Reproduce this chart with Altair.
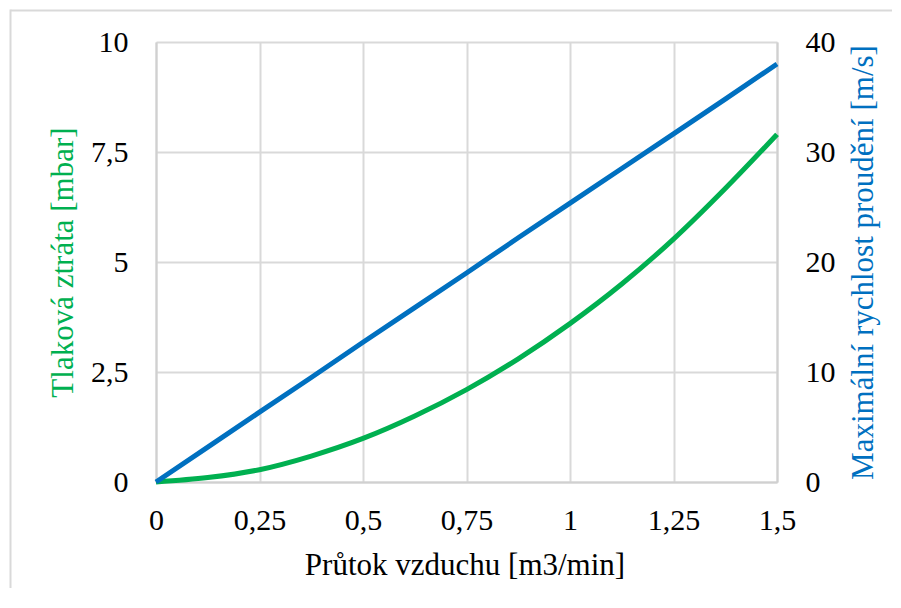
import altair as alt
import pandas as pd

# data
flow = [0, 0.125, 0.25, 0.375, 0.5, 0.625, 0.75, 0.875, 1.0, 1.125, 1.25, 1.375, 1.5]
pressure = [0, 0.1, 0.28, 0.59, 0.99, 1.5, 2.1, 2.8, 3.6, 4.5, 5.52, 6.67, 7.9]
velocity = [0, 3.17, 6.35, 9.5, 12.7, 15.85, 19.0, 22.2, 25.35, 28.5, 31.65, 34.8, 38.0]

x_ticks = [0, 0.25, 0.5, 0.75, 1, 1.25, 1.5]
left_ticks = [0, 2.5, 5, 7.5, 10]
right_ticks = [0, 10, 20, 30, 40]

GREEN = "#00b050"
BLUE = "#0070c0"
FONT = "Liberation Serif"
W, H = 621, 440

df = pd.DataFrame({"flow": flow, "pressure": pressure, "velocity": velocity})
label_expr = "replace(format(datum.value, '~g'), '.', ',')"

xenc = alt.X(
    "flow:Q",
    scale=alt.Scale(domain=[0, 1.5], nice=False, zero=True),
    axis=alt.Axis(
        values=x_ticks, labelExpr=label_expr, title="Průtok vzduchu [m3/min]",
        grid=True, ticks=False, tickSize=0, labelPadding=23,
        titleBaseline="alphabetic", titleY=92, titleX=W / 2 - 2,
    ),
)

one = pd.DataFrame({"a": [0]})
border_top = alt.Chart(one).mark_rule(stroke="#d9d9d9", strokeWidth=2, strokeCap="butt").encode(
    x=alt.value(-145.5), x2=alt.value(736), y=alt.value(-31.5)
)
border_left = alt.Chart(one).mark_rule(stroke="#d9d9d9", strokeWidth=2, strokeCap="butt").encode(
    x=alt.value(-145.5), y=alt.value(-32.5), y2=alt.value(560)
)

green = alt.Chart(df).mark_line(color=GREEN, strokeWidth=5, interpolate="monotone").encode(
    x=xenc,
    y=alt.Y(
        "pressure:Q",
        scale=alt.Scale(domain=[0, 10], nice=False),
        axis=alt.Axis(
            values=left_ticks, labelExpr=label_expr, title="Tlaková  ztráta [mbar]",
            titleColor=GREEN, grid=True, ticks=False, tickSize=0, labelPadding=28,
            titleAngle=-90, titleBaseline="alphabetic", titleX=-84, titleY=H / 2,
            titleAlign="center",
        ),
    ),
)

blue = alt.Chart(df).mark_line(color=BLUE, strokeWidth=5).encode(
    x=xenc,
    y=alt.Y(
        "velocity:Q",
        scale=alt.Scale(domain=[0, 40], nice=False),
        axis=alt.Axis(
            orient="right", values=right_ticks, labelExpr=label_expr,
            title="Maximální rychlost proudění [m/s]", titleColor=BLUE,
            grid=False, ticks=False, tickSize=0, labelPadding=28,
            titleAngle=-90, titleBaseline="alphabetic", titleX=95, titleY=H / 2,
            titleAlign="center",
        ),
    ),
)

chart = (
    alt.layer(border_top, border_left, green, blue)
    .resolve_scale(y="independent")
    .properties(
        width=W, height=H,
        autosize=alt.AutoSizeParams(type="none"),
        padding={"left": 148, "top": 34, "right": 115, "bottom": 106},
        background="transparent",
    )
    .configure_view(stroke=None)
    .configure_axis(
        labelFont=FONT, titleFont=FONT, labelFontSize=30, titleFontSize=31,
        labelColor="#000000", titleColor="#000000", titleFontWeight="normal",
        gridColor="#d9d9d9", gridWidth=2, domainColor="#d0d0d0", domainWidth=2,
        labelOverlap=False, labelFlush=False,
    )
)

chart.save("out.html", embed_options={"renderer": "svg", "actions": False})
